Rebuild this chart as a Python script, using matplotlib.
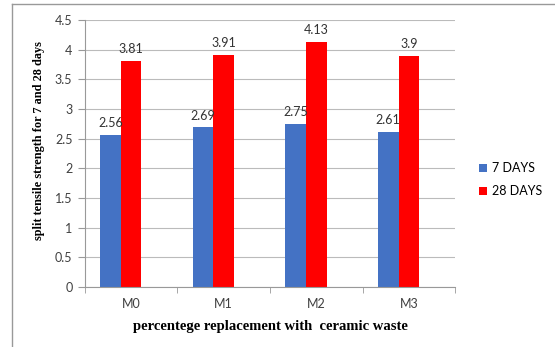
import matplotlib.pyplot as plt
import numpy as np
from matplotlib.lines import Line2D

mixes = ['M0', 'M1', 'M2', 'M3']
days7 = [2.56, 2.69, 2.75, 2.61]
days28 = [3.81, 3.91, 4.13, 3.9]
labels7 = ['2.56', '2.69', '2.75', '2.61']
labels28 = ['3.81', '3.91', '4.13', '3.9']

plt.rcParams['font.family'] = 'Lato'

fig = plt.figure(figsize=(5.55, 3.47), dpi=100)
ax = fig.add_axes([0.153, 0.173, 0.667, 0.769])

x = np.arange(len(mixes))
w = 1 / 4.5
b1 = ax.bar(x - w, days7, w, color='#4472C4', label='7 DAYS')
b2 = ax.bar(x, days28, w, color='#FF0000', label='28 DAYS')

for bars, labs in [(b1, labels7), (b2, labels28)]:
    for r, t in zip(bars, labs):
        ax.text(r.get_x() + r.get_width() / 2, r.get_height() + 0.13, t,
                ha='center', va='baseline', fontsize=9, color='#333333')

ax.set_xlim(-0.5, 3.5)
ax.set_ylim(0, 4.5)
ax.set_yticks(np.arange(0, 4.51, 0.5))
ax.set_yticklabels(['0', '0.5', '1', '1.5', '2', '2.5', '3', '3.5', '4', '4.5'])
ax.set_xticks(x)
ax.set_xticklabels(mixes)
ax.set_xticks(np.arange(-0.5, 3.6, 1), minor=True)
ax.tick_params(axis='x', which='major', length=0, labelsize=9, pad=8, colors='#404040')
ax.tick_params(axis='x', which='minor', length=4, color='#999999')
ax.tick_params(axis='y', length=5, pad=4, color='#999999', labelsize=9, colors='#404040')
ax.grid(axis='y', color='#BBBBBB', linewidth=0.8)
ax.set_axisbelow(True)
for s in ['top', 'right']:
    ax.spines[s].set_visible(False)
ax.spines['left'].set_color('#999999')
ax.spines['bottom'].set_color('#999999')

ax.set_ylabel('split tensile strength for 7 and 28 days', family='Liberation Serif',
              fontweight='bold', fontsize=8.8)
ax.yaxis.set_label_coords(-0.107, 0.55)
ax.set_xlabel('percentege replacement with  ceramic waste', family='Liberation Serif',
              fontweight='bold', fontsize=10.5, labelpad=7)

ax.legend(loc='upper left', bbox_to_anchor=(1.035, 0.51), frameon=False, fontsize=9,
          handlelength=0.6, handleheight=0.6, handletextpad=0.4, labelspacing=0.9)

fig.add_artist(Line2D([12 / 555, 1], [1 - 4 / 347, 1 - 4 / 347], color='#999999', lw=1))
fig.add_artist(Line2D([12 / 555, 12 / 555], [0, 1 - 4 / 347], color='#999999', lw=1))

fig.savefig('out.png', dpi=100)
